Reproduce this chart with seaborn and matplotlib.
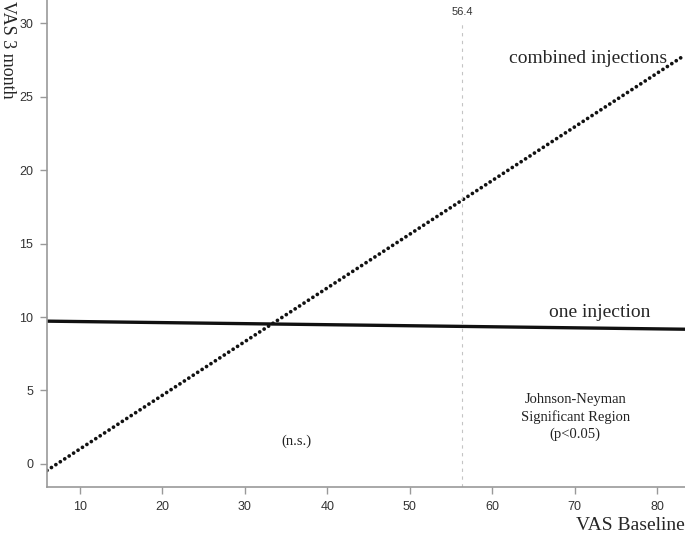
import numpy as np
import pandas as pd
import matplotlib as mpl
mpl.use('agg')
import matplotlib.pyplot as plt
import seaborn as sns

# values
vas_baseline = [6.0, 83.4]
combined_inj = [-0.45, 27.85]
one_inj = [9.72, 9.17]
jn_point = 56.4
x_ticks = [10, 20, 30, 40, 50, 60, 70, 80]
y_ticks = [0, 5, 10, 15, 20, 25, 30]

sns.set_theme(style='white')
plt.rcParams['font.family'] = ['Liberation Sans', 'DejaVu Sans']

df = pd.DataFrame({
    'VAS Baseline': vas_baseline * 2,
    'VAS 3 month': combined_inj + one_inj,
    'group': ['combined injections'] * 2 + ['one injection'] * 2,
})

fig = plt.figure(figsize=(6.85, 5.34), dpi=100)
ax = fig.add_axes([47 / 685, 1 - 487.3 / 534, 1 - 47 / 685, 487.3 / 534])

# dotted line for combined, solid for one injection
sns.lineplot(data=df[df['group'] == 'combined injections'], x='VAS Baseline', y='VAS 3 month',
             color='#111111', linewidth=2.7, linestyle=(0, (0.01, 1.4)), ax=ax,
             dash_capstyle='round', legend=False)
sns.lineplot(data=df[df['group'] == 'one injection'], x='VAS Baseline', y='VAS 3 month',
             color='#111111', linewidth=2.4, ax=ax, legend=False)

ax.set_xlim(vas_baseline[0], vas_baseline[1])
ax.set_ylim(-1.6, 31.6)
ax.axvline(jn_point, ymin=0, ymax=0.955, color='#c4c4c4', linewidth=0.8, linestyle=(0, (3, 4)))

ax.set_xticks(x_ticks)
ax.set_yticks(y_ticks)
ax.tick_params(axis='both', which='both', direction='out', length=5, width=1, color='#999999',
               labelsize=9, labelcolor='#333333', pad=5, bottom=True, left=True)
for side in ['top', 'right']:
    ax.spines[side].set_visible(False)
for side in ['left', 'bottom']:
    ax.spines[side].set_color('#999999')
    ax.spines[side].set_linewidth(1.2)

serif = ['Liberation Serif', 'DejaVu Serif']
ax.set_xlabel('')
ax.set_ylabel('')
fig.text(1.0, 1 - 525 / 534, 'VAS Baseline', ha='right', va='center', fontsize=14, family=serif)
fig.text(0.0235, 0.998, 'VAS 3 month', rotation=270, ha='right', va='top', fontsize=13, family=serif)

ax.text(71.6, 27.6, 'combined injections', ha='center', va='center', fontsize=14, family=serif)
ax.text(73.1, 10.3, 'one injection', ha='center', va='center', fontsize=14, family=serif)
ax.text(70.1, 3.2, 'Johnson-Neyman\nSignificant Region\n(p<0.05)', ha='center', va='center',
        fontsize=10.5, family=serif, color='#222222', linespacing=1.35)
ax.text(36.3, 1.55, '(n.s.)', ha='center', va='center', fontsize=10.5, family=serif, color='#222222')
ax.text(jn_point, 30.8, '56.4', ha='center', va='center', fontsize=8, color='#333333')

fig.savefig('out.png', dpi=100)
